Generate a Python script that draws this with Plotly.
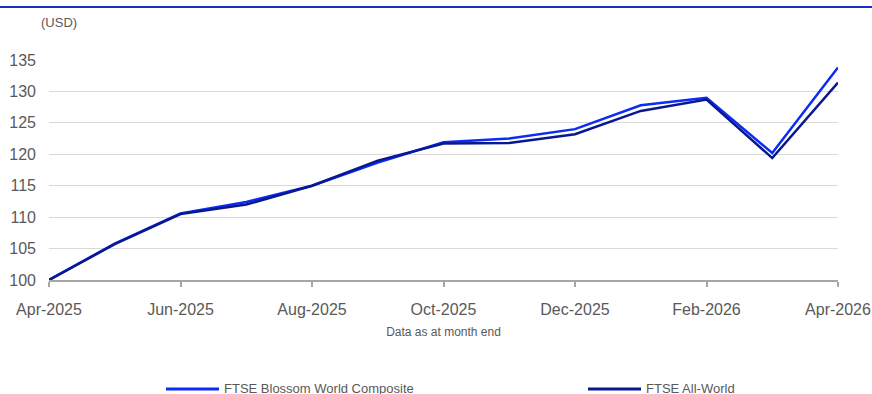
import plotly.graph_objects as go

months = ["Apr-2025", "May-2025", "Jun-2025", "Jul-2025", "Aug-2025", "Sep-2025",
          "Oct-2025", "Nov-2025", "Dec-2025", "Jan-2026", "Feb-2026", "Mar-2026", "Apr-2026"]
blossom = [100.0, 105.8, 110.6, 112.4, 115.0, 118.7, 121.9, 122.5, 124.0, 127.8, 129.0, 120.2, 133.8]
all_world = [100.0, 105.7, 110.5, 112.0, 115.0, 119.0, 121.7, 121.8, 123.2, 126.9, 128.7, 119.4, 131.4]
series_names = ["FTSE Blossom World Composite", "FTSE All-World"]
tick_labels = months[::2]
y_ticks = [100, 105, 110, 115, 120, 125, 130, 135]

BLOSSOM_COLOR = "#0a2cf5"
ALLWORLD_COLOR = "#0a1890"
TEXT = "#595959"
FONT = "Liberation Sans, Arial, sans-serif"

W, H = 872, 394
PL, PR, PT, PB = 49, 838, 60, 280  # plot area in pixels
ML, MR, MT, MB = PL, W - PR, PT, H - PB
PW, PH = PR - PL, PB - PT


def px_x(p):
    return (p - PL) / PW


def px_y(p):
    return (PB - p) / PH


fig = go.Figure()
fig.add_trace(go.Scatter(x=months, y=blossom, mode="lines", name=series_names[0],
                         line=dict(color=BLOSSOM_COLOR, width=2.5)))
fig.add_trace(go.Scatter(x=months, y=all_world, mode="lines", name=series_names[1],
                         line=dict(color=ALLWORLD_COLOR, width=2.5)))

fig.update_layout(
    width=W, height=H,
    margin=dict(l=ML, r=MR, t=MT, b=MB, autoexpand=False),
    paper_bgcolor="white", plot_bgcolor="white",
    font=dict(family=FONT, color=TEXT),
    showlegend=False,
)
fig.update_xaxes(
    type="category", categoryorder="array", categoryarray=months,
    range=[0, len(months) - 1], automargin=False,
    tickmode="array", tickvals=tick_labels, ticktext=tick_labels,
    showline=True, linecolor="#a6a6a6", linewidth=2,
    ticks="outside", ticklen=5, tickcolor="#a6a6a6", tickwidth=1.5,
    ticklabelstandoff=9,
    tickfont=dict(size=16, color=TEXT),
    showgrid=False, zeroline=False,
    title=dict(text="Data as at month end", font=dict(size=12, color=TEXT), standoff=10),
)
fig.update_yaxes(
    range=[100, 135], tickmode="array", tickvals=y_ticks, automargin=False,
    showgrid=True, gridcolor="#d9d9d9", gridwidth=1,
    showline=False, zeroline=False, ticks="",
    ticklabelstandoff=12,
    tickfont=dict(size=16, color=TEXT),
)
fig.add_annotation(text="(USD)", xref="paper", yref="paper", x=px_x(39), y=px_y(22),
                   xanchor="left", yanchor="middle", showarrow=False,
                   font=dict(size=13, color=TEXT))
fig.add_shape(type="line", xref="paper", yref="paper", x0=px_x(0), x1=px_x(872),
              y0=px_y(7), y1=px_y(7), line=dict(color="#1a2fbf", width=2))

# manual legend (bottom, partly cropped like the reference)
legend_items = [(series_names[0], BLOSSOM_COLOR, 166), (series_names[1], ALLWORLD_COLOR, 588)]
for name, color, x0 in legend_items:
    fig.add_shape(type="line", xref="paper", yref="paper", x0=px_x(x0), x1=px_x(x0 + 53),
                  y0=px_y(389), y1=px_y(389), line=dict(color=color, width=3))
    fig.add_annotation(text=name, xref="paper", yref="paper", x=px_x(x0 + 56), y=px_y(388),
                       xanchor="left", yanchor="middle", showarrow=False,
                       font=dict(size=13, color=TEXT))

fig.write_html(
    "out.html",
    config={"displayModeBar": False},
    post_script="document.body.style.margin='0';document.body.style.overflow='hidden';"
                "document.documentElement.style.overflow='hidden';",
)
